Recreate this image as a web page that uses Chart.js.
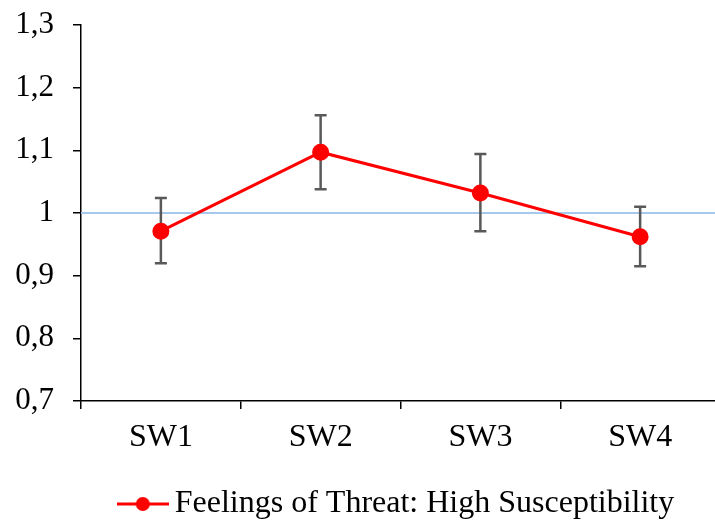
<!DOCTYPE html>
<html>
<head>
<meta charset="utf-8">
<script src="https://cdn.jsdelivr.net/npm/chart.js@4/dist/chart.umd.min.js"></script>
<style>
  html, body { margin: 0; padding: 0; background: #fff; overflow: hidden; }
  #wrap { width: 730px; height: 525px; }
</style>
</head>
<body>
<div id="wrap"><canvas id="grafico" width="730" height="525"></canvas></div>
<script>
const categorias = ['SW1', 'SW2', 'SW3', 'SW4'];
const medias = [0.971, 1.097, 1.032, 0.962];
const erroSup = [1.024, 1.156, 1.094, 1.010];
const erroInf = [0.920, 1.038, 0.971, 0.915];
const ticksY = [0.7, 0.8, 0.9, 1.0, 1.1, 1.2, 1.3];
const linhaRef = 1;

const fonte = 'Liberation Serif, "Times New Roman", serif';

// barras de erro e linha de referencia
const extras = {
  id: 'extras',
  beforeDatasetsDraw(chart) {
    const { ctx, chartArea, scales } = chart;
    const y0 = scales.y.getPixelForValue(linhaRef);
    ctx.save();
    ctx.strokeStyle = '#a5c8ec';
    ctx.lineWidth = 2;
    ctx.beginPath();
    ctx.moveTo(chartArea.left, y0);
    ctx.lineTo(chartArea.right, y0);
    ctx.stroke();

    ctx.strokeStyle = '#595959';
    ctx.lineWidth = 2.5;
    categorias.forEach((c, i) => {
      const x = scales.x.getPixelForValue(i);
      const yt = scales.y.getPixelForValue(erroSup[i]);
      const yb = scales.y.getPixelForValue(erroInf[i]);
      ctx.beginPath();
      ctx.moveTo(x, yt); ctx.lineTo(x, yb);
      ctx.moveTo(x - 6, yt); ctx.lineTo(x + 6, yt);
      ctx.moveTo(x - 6, yb); ctx.lineTo(x + 6, yb);
      ctx.stroke();
    });
    ctx.restore();
  }
};

// simbolo da legenda: linha com ponto
const simbolo = document.createElement('canvas');
simbolo.width = 52; simbolo.height = 16;
(() => {
  const c = simbolo.getContext('2d');
  c.strokeStyle = '#ff0000';
  c.lineWidth = 3;
  c.beginPath(); c.moveTo(0, 8); c.lineTo(52, 8); c.stroke();
  c.fillStyle = '#ff0000';
  c.beginPath(); c.arc(26, 8, 7, 0, Math.PI * 2); c.fill();
})();

new Chart(document.getElementById('grafico'), {
  type: 'line',
  data: {
    labels: categorias,
    datasets: [{
      label: 'Feelings of Threat: High Susceptibility',
      data: medias,
      borderColor: '#ff0000',
      backgroundColor: '#ff0000',
      borderWidth: 3,
      pointRadius: 7,
      pointHoverRadius: 7,
      tension: 0
    }]
  },
  options: {
    responsive: false,
    animation: false,
    layout: { padding: { top: 25, right: 9, left: 0, bottom: -5 } },
    plugins: {
      tooltip: { enabled: false },
      legend: {
        position: 'bottom',
        fullSize: false,
        labels: {
          usePointStyle: true,
          color: '#000',
          font: { family: fonte, size: 32 },
          padding: 4,
          generateLabels: (chart) => [{
            text: chart.data.datasets[0].label,
            pointStyle: simbolo,
            fillStyle: '#ff0000',
            strokeStyle: '#ff0000',
            lineWidth: 0,
            datasetIndex: 0
          }]
        }
      }
    },
    scales: {
      x: {
        offset: true,
        border: { color: '#000', width: 1.5 },
        grid: { offset: true, drawOnChartArea: false, drawTicks: true, tickLength: 8, color: '#000', lineWidth: 1.5 },
        ticks: { color: '#000', font: { family: fonte, size: 32 }, padding: 9 },
        afterFit: (s) => { s.height = 83; }
      },
      y: {
        min: 0.7,
        max: 1.3,
        border: { color: '#000', width: 1.5 },
        grid: { drawOnChartArea: false, drawTicks: true, tickLength: 8, color: '#000', lineWidth: 1.5 },
        afterBuildTicks: (s) => { s.ticks = ticksY.map(v => ({ value: v })); },
        ticks: {
          color: '#000',
          font: { family: fonte, size: 31 },
          padding: 19,
          callback: (v) => (Math.round(v * 10) / 10).toString().replace('.', ',')
        },
        afterFit: (s) => { s.width = 81; s.paddingTop = 0; s.paddingBottom = 0; }
      }
    }
  },
  plugins: [extras]
});
</script>
</body>
</html>
